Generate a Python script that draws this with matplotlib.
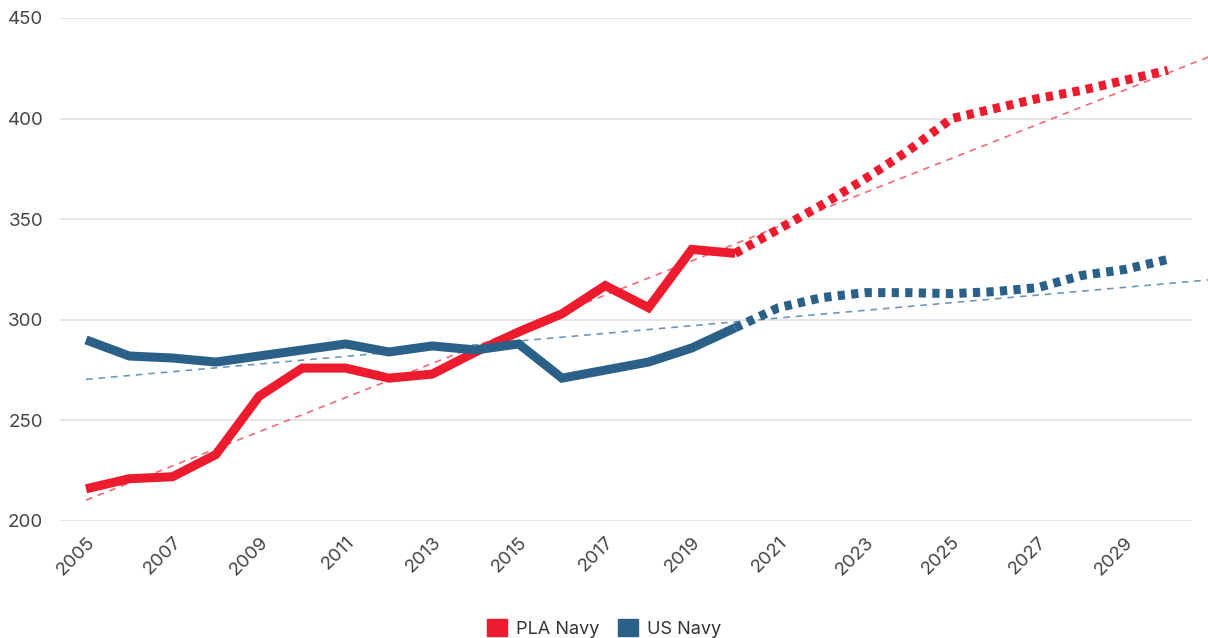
import matplotlib.pyplot as plt
from matplotlib.patches import Patch

years = list(range(2005, 2021))
proj_years = list(range(2020, 2031))

pla_navy = [216, 221, 222, 233, 262, 276, 276, 271, 273, 284, 294, 303, 317, 306, 335, 333]
pla_proj = [333, 345, 357, 370, 384, 400, 405, 410, 414, 419, 424]

us_navy = [290, 282, 281, 279, 282, 285, 288, 284, 287, 285, 288, 271, 275, 279, 286, 296]
us_proj = [296, 306, 311, 313.5, 313.5, 313, 314, 316, 322, 325, 330]

# trend lines: value at 2005 and slope per year
pla_trend = (210.4, 8.49)
us_trend = (270.4, 1.905)
trend_years = [2005, 2031]

red = '#EC1B2E'
blue = '#2B6189'

plt.rcParams['font.family'] = ['Inter', 'DejaVu Sans']

fig = plt.figure(figsize=(12.08, 6.38), dpi=100)
ax = fig.add_axes([0.0497, 0.1834, 0.9371, 0.7884])

for b, s, c in [(pla_trend[0], pla_trend[1], '#F06A78'), (us_trend[0], us_trend[1], '#6F97BA')]:
    ty = [b + s * (t - 2005) for t in trend_years]
    ax.plot(trend_years, ty, color=c, lw=1.2, dashes=(4, 3.5), clip_on=False, zorder=2)

ax.plot(years, pla_navy, color=red, lw=6.5, solid_joinstyle='miter', solid_capstyle='butt', zorder=3)
ax.plot(proj_years, pla_proj, color=red, lw=6.5, dashes=(0.8, 0.7), dash_capstyle='butt', zorder=3)
ax.plot(years, us_navy, color=blue, lw=6.5, solid_joinstyle='miter', solid_capstyle='butt', zorder=3)
ax.plot(proj_years, us_proj, color=blue, lw=6.5, dashes=(0.8, 0.7), dash_capstyle='butt', zorder=3)

ax.set_xlim(2004.4, 2030.56)
ax.set_ylim(200, 450)
ax.set_yticks([200, 250, 300, 350, 400, 450])
ax.set_xticks(list(range(2005, 2030, 2)))
ax.set_xticklabels([str(y) for y in range(2005, 2030, 2)], rotation=45, ha='right',
                   rotation_mode='anchor', fontsize=13.5, color='#444444')
ax.tick_params(axis='y', labelsize=13.5, labelcolor='#444444', length=0, pad=12)
ax.tick_params(axis='x', length=0, pad=9)
ax.grid(axis='y', color='#E4E4E4', lw=1.3)
ax.set_axisbelow(True)
for sp in ax.spines.values():
    sp.set_visible(False)

handles = [Patch(color=red, label='PLA Navy'), Patch(color=blue, label='US Navy')]
fig.legend(handles=handles, loc='upper center', bbox_to_anchor=(0.5, 0.055), ncol=2,
           frameon=False, fontsize=13, handlelength=1.1, handleheight=1.1,
           handletextpad=0.5, columnspacing=1.0, labelcolor='#333333')

plt.savefig('out.png', dpi=100)
plt.close()
